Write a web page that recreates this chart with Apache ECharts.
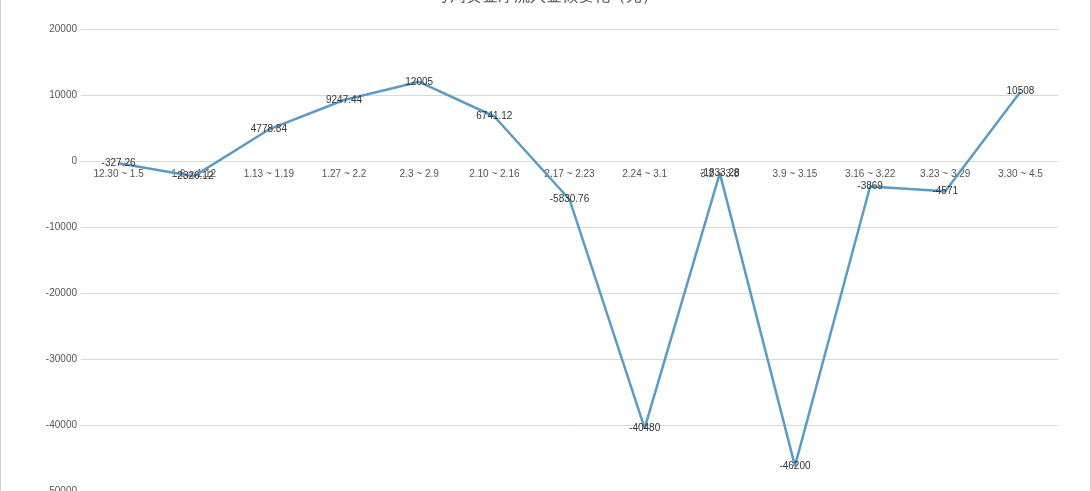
<!DOCTYPE html>
<html>
<head>
<meta charset="utf-8">
<script src="https://cdn.jsdelivr.net/npm/echarts@6/dist/echarts.min.js"></script>
<style>
html,body{margin:0;padding:0;background:#fff;}
#c{width:1089px;height:491px;border-left:1px solid #d0d0d0;border-right:1px solid #d0d0d0;}
</style>
</head>
<body>
<div id="c"></div>
<script>
const titleText = '每周资金净流入金额变化（元）';
const categories = ['12.30 ~ 1.5','1.6 ~ 1.12','1.13 ~ 1.19','1.27 ~ 2.2','2.3 ~ 2.9','2.10 ~ 2.16','2.17 ~ 2.23','2.24 ~ 3.1','3.2 ~ 3.8','3.9 ~ 3.15','3.16 ~ 3.22','3.23 ~ 3.29','3.30 ~ 4.5'];
const values = [-327.26, -2326.12, 4778.84, 9247.44, 12005, 6741.12, -5830.76, -40480, -1833.28, -46200, -3869, -4571, 10508];
const yMin = -50000, yMax = 20000, yStep = 10000;

const chart = echarts.init(document.getElementById('c'));
chart.setOption({
  animation: false,
  title: {
    text: titleText, left: 'center', top: -16,
    textStyle: {fontSize: 16, fontWeight: 'normal', color: '#555'}
  },
  grid: {left: 80, right: 32, top: 29, bottom: 0, containLabel: false, outerBoundsMode: 'none'},
  xAxis: {
    type: 'category', data: categories, boundaryGap: true,
    offset: -330,
    axisLine: {show: false, onZero: false},
    axisTick: {show: false},
    axisLabel: {fontSize: 10, color: '#555', margin: 8, interval: 0}
  },
  yAxis: {
    type: 'value', min: yMin, max: yMax, interval: yStep,
    axisLine: {show: false}, axisTick: {show: false},
    splitLine: {lineStyle: {color: '#d9d9d9'}},
    axisLabel: {fontSize: 10, color: '#555', margin: 4, formatter: v => String(v)}
  },
  series: [{
    type: 'line', data: values,
    symbol: 'circle', symbolSize: 0.1, showSymbol: true,
    itemStyle: {color: 'rgba(0,0,0,0)'},
    lineStyle: {color: '#5b9bc5', width: 2.5},
    label: {show: true, position: 'inside', fontSize: 10, color: '#333'}
  }]
});
</script>
</body>
</html>
